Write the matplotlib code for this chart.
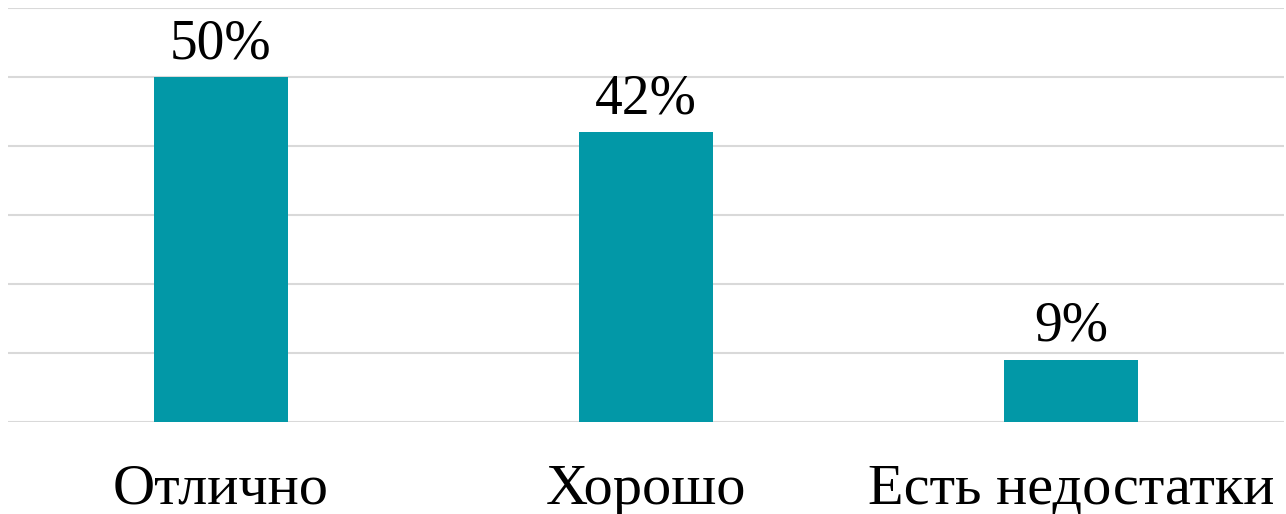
import matplotlib.pyplot as plt
import numpy as np

# данные
categories = ['Отлично', 'Хорошо', 'Есть недостатки']
values = [50, 42, 9]
labels = ['50%', '42%', '9%']

fig = plt.figure(figsize=(12.86, 5.14), dpi=100)
ax = fig.add_axes([8/1286, 92/514, 1276/1286, 414/514])

x = np.arange(len(categories))
bars = ax.bar(x, values, width=0.315, color='#0298A7', zorder=3)

for b, lab in zip(bars, labels):
    ax.annotate(lab, (b.get_x() + b.get_width()/2, b.get_height()),
                xytext=(0, 5), textcoords='offset points',
                ha='center', va='bottom', fontsize=40,
                family='Liberation Serif', color='black')

ax.set_xlim(-0.5, len(categories) - 0.5)
ax.set_ylim(0, 60)
ax.set_yticks(np.arange(0, 61, 10))
ax.yaxis.grid(True, color='#d9d9d9', linewidth=1.5, zorder=0)
ax.set_yticklabels([])
ax.tick_params(axis='both', length=0)
ax.set_xticks(x)
ax.set_xticklabels(categories, fontsize=42, family='Liberation Serif')
ax.tick_params(axis='x', pad=30)
for s in ax.spines.values():
    s.set_visible(False)

fig.savefig('out.png', dpi=100)
